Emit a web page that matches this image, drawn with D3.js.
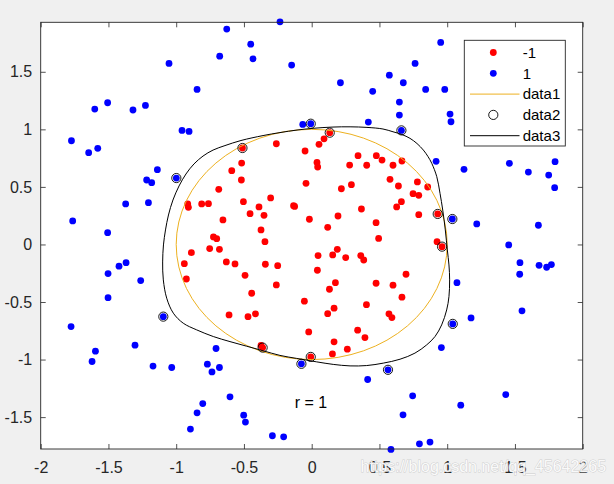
<!DOCTYPE html>
<html><head><meta charset="utf-8">
<script src="https://cdn.jsdelivr.net/npm/d3@7"></script>
<style>
html,body{margin:0;padding:0;background:#f0f0f0;}
svg{display:block;font-family:"Liberation Sans",Arial,Helvetica,sans-serif;}
</style>
</head><body>
<svg id="chart" width="614" height="484"></svg>
<script>
// ---------- data ----------
const xTicks = [-2, -1.5, -1, -0.5, 0, 0.5, 1, 1.5, 2];
const yTicks = [-1.5, -1, -0.5, 0, 0.5, 1, 1.5];
const xDomain = [-2, 2];
const yDomain = [-1.777, 1.93];

const redPts = [
[-0.511,0.838],[-0.261,0.875],[0.054,0.870],[-0.049,0.812],[-0.517,0.707],[0.039,0.713],[0.044,0.673],
[-0.590,0.641],[-0.519,0.560],[-0.042,0.531],[-0.686,0.479],[-0.915,0.352],[-0.910,0.323],[-0.812,0.352],
[-0.762,0.354],[-0.504,0.372],[-0.303,0.404],[-0.134,0.337],[-0.126,0.330],[-0.455,0.267],[-0.389,0.326],
[-0.352,0.253],[-0.017,0.219],[-0.655,0.213],[-0.374,0.126],[-0.725,0.065],[-0.701,0.050],[-0.345,0.024],
[-0.753,-0.036],[-0.681,-0.042],[-0.888,-0.071],[-0.940,-0.167],[-0.925,-0.300],[-0.630,-0.152],[-0.566,-0.169],
[-0.492,-0.268],[-0.443,-0.424],[-0.342,-0.172],[-0.251,-0.184],[-0.261,-0.352],[-0.610,-0.612],[-0.470,-0.627],
[-0.415,-0.603],[-0.054,-0.493],[-0.022,-0.760],[0.047,-0.097],[0.042,-0.224],[-0.362,-0.896],[-0.374,-0.878],
[-0.007,-0.977],[0.155,-0.091],[0.189,-0.042],[0.251,-0.114],[0.362,-0.097],[0.384,-0.135],[0.494,0.052],
[0.175,-0.332],[0.131,-0.389],[0.165,-0.554],[0.118,-0.601],[0.165,-0.846],[0.153,-0.951],[0.263,-0.910],
[0.339,-0.745],[0.393,-0.809],[0.404,-0.523],[0.475,-0.337],[0.600,-0.354],[0.696,-0.259],[0.666,-0.458],
[0.570,-0.603],[0.592,-0.635],[0.962,-0.019],[0.925,0.024],[0.133,0.971],[0.091,0.918],[0.280,0.690],
[0.342,0.771],[0.406,0.688],[0.477,0.771],[0.519,0.733],[0.600,0.688],[0.666,0.725],[0.219,0.484],
[0.293,0.519],[0.578,0.566],[0.640,0.508],[0.780,0.543],[0.856,0.499],[0.748,0.441],[0.790,0.427],
[0.662,0.372],[0.627,0.326],[0.367,0.308],[0.194,0.247],[0.118,0.149],[0.475,0.189],[0.790,0.259],[0.930,0.265]
];

const bluePts = [
[-0.234,1.934],[-0.627,1.871],[-0.450,1.740],[-0.679,1.636],[-0.433,1.613],[-1.053,1.573],[-0.148,1.558],
[-0.846,1.347],[-1.506,1.231],[-1.601,1.176],[-1.319,1.168],[-1.227,1.208],[-1.773,0.901],[-1.646,0.797],
[-1.579,0.835],[-0.957,0.991],[-0.905,0.982],[-1.139,0.650],[-1.218,0.560],[-1.181,0.537],[-0.999,0.577],
[-1.373,0.352],[-1.205,0.363],[-1.764,0.204],[-1.506,0.102],[-0.066,1.043],[-0.007,1.049],
[0.952,1.755],[0.763,1.573],[0.573,1.471],[0.676,1.405],[0.212,1.405],[0.450,1.330],[0.841,1.347],
[0.982,1.347],[0.647,1.237],[0.647,1.124],[1.021,1.133],[1.028,1.066],[0.418,1.063],[0.662,0.991],
[0.918,0.722],[1.124,0.653],[1.459,0.705],[1.599,0.629],[1.749,0.603],[1.796,0.719],[1.793,0.493],
[1.038,0.221],[1.218,0.178],[1.673,0.167],[1.454,-0.004],
[1.537,-0.158],[1.535,-0.259],[1.678,-0.181],[1.734,-0.198],[1.769,-0.175],[1.072,-0.332],[1.552,-0.577],
[1.176,-0.638],[1.041,-0.690],[0.957,-0.896],[0.563,-1.089],[0.413,-1.173],[-0.076,-1.037],[0.745,-1.315],
[1.432,-1.304],[1.100,-1.396],[0.674,-1.480],[0.795,-1.732],[0.873,-1.717],[0.585,-1.781],
[-1.370,-0.158],[-1.422,-0.189],[-1.503,-0.253],[-1.262,-0.314],[-1.503,-0.462],[-1.776,-0.713],[-1.095,-0.627],
[-1.596,-0.927],[-1.621,-1.017],[-1.304,-0.875],[-1.171,-1.057],[-1.033,-1.069],[-0.706,-0.904],[-0.770,-1.040],
[-0.736,-1.107],[-0.681,-1.069],[-0.603,-1.324],[-0.804,-1.382],[-0.846,-1.463],[-0.895,-1.604],[-0.502,-1.483],
[-0.489,-1.543],[-0.290,-1.662],[-0.207,-1.671]
];

const supportVecs = [
[-0.999,0.577],[-0.511,0.838],[-0.007,1.049],[0.133,0.971],[0.662,0.991],[0.930,0.265],[1.038,0.221],
[0.962,-0.019],[1.041,-0.690],[0.563,-1.089],[-0.007,-0.977],[-0.076,-1.037],[-0.362,-0.896],[-1.095,-0.627]
];

const boundary = [
[-1.095,-0.308],[-1.100,-0.152],[-1.094,-0.004],[-1.079,0.126],[-1.057,0.256],[-1.024,0.386],[-0.979,0.508],
[-0.928,0.612],[-0.869,0.699],[-0.802,0.768],[-0.728,0.820],[-0.640,0.859],[-0.522,0.903],[-0.359,0.946],
[-0.234,0.972],[-0.108,0.994],[0.010,1.009],[0.157,1.020],[0.283,1.022],[0.408,1.017],[0.526,1.003],
[0.600,0.979],[0.666,0.955],[0.725,0.922],[0.777,0.877],[0.824,0.820],[0.858,0.764],[0.886,0.705],
[0.923,0.589],[0.947,0.444],[0.967,0.299],[0.986,0.126],[1.001,-0.048],[1.013,-0.178],[1.018,-0.308],
[1.013,-0.453],[0.996,-0.569],[0.959,-0.699],[0.910,-0.800],[0.849,-0.872],[0.762,-0.944],[0.652,-0.997],
[0.528,-1.031],[0.406,-1.052],[0.283,-1.055],[0.159,-1.042],[0.037,-1.020],[-0.111,-0.990],[-0.234,-0.964],
[-0.357,-0.924],[-0.480,-0.884],[-0.603,-0.844],[-0.726,-0.800],[-0.849,-0.742],[-0.948,-0.684],[-1.021,-0.597],
[-1.070,-0.467]
];

const circleRadius = 1;
const legendLabels = ["-1", "1", "data1", "data2", "data3"];
const annotation = "r = 1";
const watermark = "https://blog.csdn.net/qq_45642265";

// ---------- layout ----------
const svg = d3.select("#chart");
const L = 40.7, R = 582.7, T = 22.3, B = 449;
const x = d3.scaleLinear().domain(xDomain).range([L, R]);
const y = d3.scaleLinear().domain(yDomain).range([B, T]);
const axisColor = "#262626";
const tickLen = 5;

svg.append("rect").attr("x", 0).attr("y", 0).attr("width", 614).attr("height", 484).attr("fill", "#f0f0f0");
svg.append("rect").attr("x", L).attr("y", T).attr("width", R - L).attr("height", B - T).attr("fill", "#fff");

// axes via d3 axis generators (inward ticks)
const fmt = v => String(v);
const gx = svg.append("g").attr("transform", `translate(0,${B})`)
  .call(d3.axisBottom(x).tickValues(xTicks).tickFormat(fmt).tickSizeInner(-tickLen).tickSizeOuter(0).tickPadding(13));
const gxt = svg.append("g").attr("transform", `translate(0,${T})`)
  .call(d3.axisTop(x).tickValues(xTicks).tickFormat("").tickSizeInner(-tickLen).tickSizeOuter(0));
const gy = svg.append("g").attr("transform", `translate(${L},0)`)
  .call(d3.axisLeft(y).tickValues(yTicks).tickFormat(fmt).tickSizeInner(-tickLen).tickSizeOuter(0).tickPadding(13));
const gyr = svg.append("g").attr("transform", `translate(${R},0)`)
  .call(d3.axisRight(y).tickValues(yTicks).tickFormat("").tickSizeInner(-tickLen).tickSizeOuter(0));
[gx, gxt, gy, gyr].forEach(g => {
  g.select(".domain").remove();
  g.selectAll(".tick line").attr("stroke", axisColor).attr("stroke-width", 0.8);
  g.selectAll(".tick text").attr("fill", axisColor).attr("font-size", 16)
    .attr("font-family", '"Liberation Sans",Arial,sans-serif');
});
gy.selectAll(".tick text").attr("x", -8.5);
gx.selectAll(".tick text").attr("y", 13).attr("dy", "0.71em");

// points
const pr = 3.4;
svg.append("g").selectAll("circle").data(redPts).join("circle")
  .attr("cx", d => x(d[0])).attr("cy", d => y(d[1])).attr("r", pr).attr("fill", "#ff0000");
svg.append("g").selectAll("circle").data(bluePts).join("circle")
  .attr("cx", d => x(d[0])).attr("cy", d => y(d[1])).attr("r", pr).attr("fill", "#0000ff");

// data1: circle of radius r
svg.append("ellipse")
  .attr("cx", x(0)).attr("cy", y(0))
  .attr("rx", x(circleRadius) - x(0)).attr("ry", y(0) - y(circleRadius))
  .attr("fill", "none").attr("stroke", "#EDB120").attr("stroke-width", 1);

// data2: support vectors
svg.append("g").selectAll("circle").data(supportVecs).join("circle")
  .attr("cx", d => x(d[0])).attr("cy", d => y(d[1])).attr("r", 4.6)
  .attr("fill", "none").attr("stroke", "#000").attr("stroke-width", 0.9);

// data3: decision boundary
const line = d3.line().x(d => x(d[0])).y(d => y(d[1])).curve(d3.curveCatmullRomClosed.alpha(0.5));
svg.append("path").datum(boundary).attr("d", line)
  .attr("fill", "none").attr("stroke", "#000").attr("stroke-width", 1);

// box
svg.append("rect").attr("x", L).attr("y", T).attr("width", R - L).attr("height", B - T)
  .attr("fill", "none").attr("stroke", axisColor).attr("stroke-width", 0.9);

// annotation
svg.append("text").attr("x", x(-0.125)).attr("y", y(-1.37)).attr("dy", "0.35em")
  .attr("font-size", 16).attr("fill", "#000").text(annotation);

// legend
const lg = svg.append("g");
const lx0 = 464.3, ly0 = 40.3, lw = 101, lh = 105.7;
lg.append("rect").attr("x", lx0).attr("y", ly0).attr("width", lw).attr("height", lh)
  .attr("fill", "#fff").attr("stroke", axisColor).attr("stroke-width", 0.9);
const rowY = i => 52.5 + i * 20.8;
legendLabels.forEach((lab, i) => {
  const cy = rowY(i);
  if (i === 0 || i === 1) {
    lg.append("circle").attr("cx", 493.3).attr("cy", cy).attr("r", pr).attr("fill", i === 0 ? "#ff0000" : "#0000ff");
  } else if (i === 2 || i === 4) {
    lg.append("line").attr("x1", 470).attr("x2", 519.5).attr("y1", cy).attr("y2", cy)
      .attr("stroke", i === 2 ? "#EDB120" : "#000").attr("stroke-width", 1);
  } else {
    lg.append("circle").attr("cx", 493.3).attr("cy", cy).attr("r", 4.6)
      .attr("fill", "none").attr("stroke", "#000").attr("stroke-width", 0.9);
  }
  lg.append("text").attr("x", 522.7).attr("y", cy).attr("dy", "0.35em")
    .attr("font-size", 15).attr("fill", "#000").text(lab);
});

// watermark
svg.append("text").attr("x", 360.5).attr("y", 466.5).attr("dy", "0.35em")
  .attr("font-size", 16).attr("fill", "#ffffff").attr("stroke", "#bdbdbd").attr("stroke-width", 0.9)
  .attr("stroke-opacity", 0.7).attr("paint-order", "stroke").attr("fill-opacity", 0.9)
  .text(watermark);
</script>
</body></html>
